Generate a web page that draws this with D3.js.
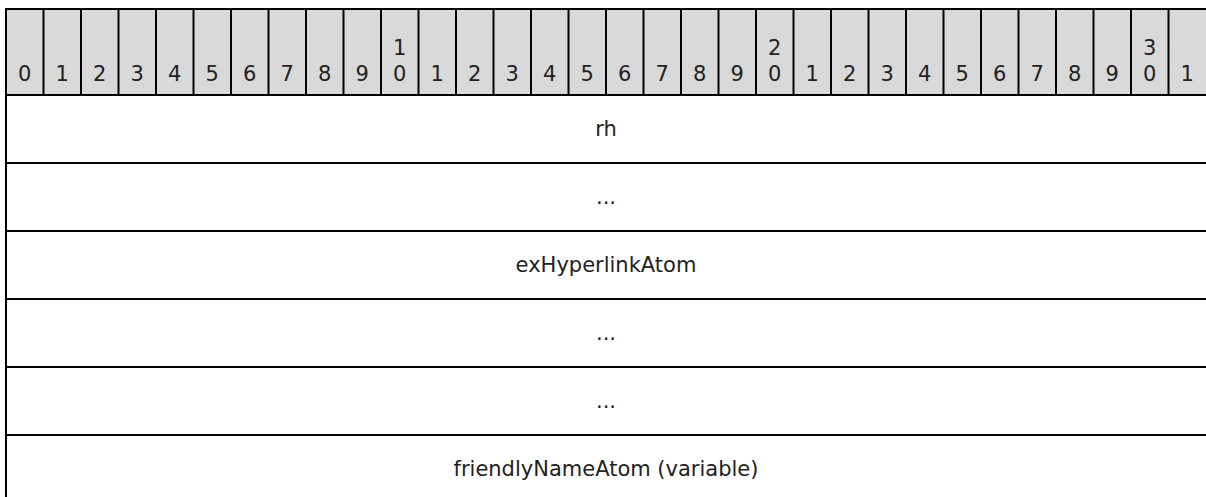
<!DOCTYPE html>
<html><head><meta charset="utf-8">
<script src="https://cdn.jsdelivr.net/npm/d3@7"></script>
<style>html,body{margin:0;padding:0;background:#fff;}svg{display:block;}</style>
</head><body>
<script>
const bitLabels = ["0","1","2","3","4","5","6","7","8","9","1\n0","1","2","3","4","5","6","7","8","9","2\n0","1","2","3","4","5","6","7","8","9","3\n0","1"];
const fieldNames = ["rh","...","exHyperlinkAtom","...","...","friendlyNameAtom (variable)"];
const fieldBits = [32,32,32,32,32,32];

(function () {
const W = 1206, H = 497;
const leftX = 6, rightX = 1206, topY = 9, headerBottom = 95, rowH = 68;
const svg = d3.select("body").append("svg").attr("width", W).attr("height", H);
const font = "'DejaVu Sans', Verdana, sans-serif";
const fs = 21;

const x = d3.scaleLinear().domain([0, 32]).range([leftX, rightX]);
const y = d3.scaleLinear().domain([0, 1]).range([headerBottom, headerBottom + rowH]);

// header
svg.append("rect").attr("x", leftX).attr("y", topY).attr("width", rightX - leftX).attr("height", headerBottom - topY).attr("fill", "#d9d9d9");
const hdr = svg.append("g");
bitLabels.forEach((lab, i) => {
  const cx = x(i + 0.5);
  const lines = lab.split("\n");
  lines.forEach((ln, j) => {
    hdr.append("text").attr("x", cx).attr("y", 81 - (lines.length - 1 - j) * 26)
      .attr("text-anchor", "middle").attr("font-family", font).attr("font-size", fs)
      .attr("fill", "#222").text(ln);
  });
});
for (let i = 1; i < 32; i++) {
  svg.append("line").attr("x1", x(i)).attr("x2", x(i)).attr("y1", topY).attr("y2", headerBottom)
    .attr("stroke", "#000").attr("stroke-width", 2);
}
let bitPos = 0;
fieldNames.forEach((name, r) => {
  const bits = fieldBits[r];
  const startBit = bitPos % 32;
  const row = Math.floor(bitPos / 32);
  const x0 = x(startBit), x1 = x(startBit + bits);
  svg.append("text").attr("x", (x0 + x1) / 2).attr("y", y(row + 0.5))
    .attr("text-anchor", "middle").attr("dominant-baseline", "central")
    .attr("font-family", font).attr("font-size", fs).attr("fill", "#222").text(name);
  svg.append("line").attr("x1", leftX).attr("x2", rightX).attr("y1", y(row + 1)).attr("y2", y(row + 1))
    .attr("stroke", "#000").attr("stroke-width", 2);
  bitPos += bits;
});
svg.append("line").attr("x1", leftX - 1).attr("x2", rightX).attr("y1", topY).attr("y2", topY).attr("stroke", "#000").attr("stroke-width", 2);
svg.append("line").attr("x1", leftX).attr("x2", rightX).attr("y1", headerBottom).attr("y2", headerBottom).attr("stroke", "#000").attr("stroke-width", 2);
svg.append("line").attr("x1", leftX).attr("x2", leftX).attr("y1", topY).attr("y2", y(fieldNames.length)).attr("stroke", "#000").attr("stroke-width", 2);
})();
</script>
</body></html>
